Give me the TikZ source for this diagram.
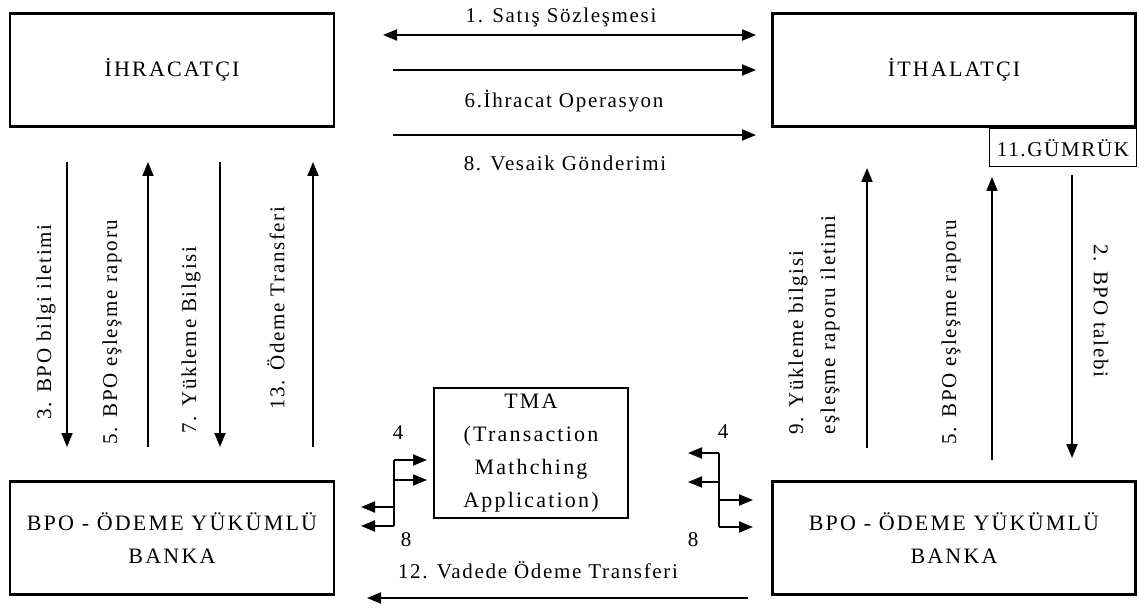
\documentclass[tikz,border=0pt]{standalone}
\usepackage{fontspec}
\setmainfont{Liberation Serif}
\newfontfamily\kutufont[LetterSpace=10]{Liberation Serif}
\newfontfamily\etiketfont[LetterSpace=8]{Liberation Serif}
\usetikzlibrary{arrows.meta}

\tikzset{
  kutu/.style={draw, line width=2.8pt, align=center, inner sep=0pt, font=\kutufont\fontsize{22}{33}\selectfont},
  uc/.tip={Triangle[length=14pt,width=11pt]},
  ok/.style={line width=2pt, -uc},
  etiket/.style={inner sep=0pt, font=\etiketfont\fontsize{21}{32}\selectfont},
}

\begin{document}
\begin{tikzpicture}[x=1pt,y=-1pt]
\useasboundingbox (0,0) rectangle (1139,612);

\node[kutu, minimum width=324pt, minimum height=113pt] (ihr) at (172,70) {İHRACATÇI};
\node[kutu, minimum width=363pt, minimum height=113pt] (ith) at (954,70) {İTHALATÇI};
\node[draw, line width=1pt, minimum width=147pt, minimum height=38pt, inner sep=0pt, font=\etiketfont\fontsize{21}{24}\selectfont] (gum) at (1063,148) {11.GÜMRÜK};
\node[kutu, minimum width=194pt, minimum height=130pt] (tma) at (531,453) {TMA\\(Transaction\\Mathching\\Application)};
\node[kutu, minimum width=324pt, minimum height=113pt] (bpo1) at (172,538) {BPO - ÖDEME YÜKÜMLÜ\\BANKA};
\node[kutu, minimum width=363pt, minimum height=113pt] (bpo2) at (954,538) {BPO - ÖDEME YÜKÜMLÜ\\BANKA};

% ust oklar
\coordinate (s1) at (383,35);  \coordinate (e1) at (756,35);
\coordinate (s6) at (393,70);  \coordinate (e6) at (756,70);
\coordinate (s8) at (393,135); \coordinate (e8) at (756,135);
\draw[ok, uc-uc] (s1) -- (e1);
\draw[ok] (s6) -- (e6);
\draw[ok] (s8) -- (e8);
\node[etiket] (l1) at (561,17) {1. Satış Sözleşmesi};
\node[etiket] (l6) at (564,101) {6.İhracat Operasyon};
\node[etiket] (l8) at (565,163) {8. Vesaik Gönderimi};

% sol dikey oklar
\foreach \nm/\x in {a3/67, a5/148, a7/220, a13/313} {
  \coordinate (\nm u) at (\x,162);
  \coordinate (\nm d) at (\x,447);
}
\draw[ok] (a3u) -- (a3d);
\draw[ok] (a5d) -- (a5u);
\draw[ok] (a7u) -- (a7d);
\draw[ok] (a13d) -- (a13u);
\node[etiket, rotate=90] (l3) at (46,322) {3. BPO bilgi iletimi};
\node[etiket, rotate=90] (l5a) at (112,332) {5. BPO eşleşme raporu};
\node[etiket, rotate=90] (l7) at (191,340) {7. Yükleme Bilgisi};
\node[etiket, rotate=90] (l13) at (276,308) {13. Ödeme Transferi};

% sag dikey oklar
\coordinate (b9u) at (867,168); \coordinate (b9d) at (867,448);
\coordinate (b5u) at (992,177); \coordinate (b5d) at (992,460);
\coordinate (b2u) at (1072,175); \coordinate (b2d) at (1072,458);
\draw[ok] (b9d) -- (b9u);
\draw[ok] (b5d) -- (b5u);
\draw[ok] (b2u) -- (b2d);
\node[etiket, rotate=90, align=left] (l9) at (814,325) {9. Yükleme bilgisi\\eşleşme raporu iletimi};
\node[etiket, rotate=90] (l5b) at (951,332) {5. BPO eşleşme raporu};
\node[etiket, rotate=-90] (l2) at (1101,311) {2. BPO talebi};

% TMA baglantilari
\coordinate (k1) at (394,460); \coordinate (k2) at (394,526);
\draw[line width=2pt] (k1) -- (k2);
\coordinate (k1r) at (427,460); \coordinate (k2r) at (427,480); \coordinate (k2m) at (394,480);
\coordinate (k3m) at (394,507); \coordinate (k3l) at (361,507); \coordinate (k2l) at (361,526);
\draw[ok] (k1) -- (k1r);
\draw[ok] (k2m) -- (k2r);
\draw[ok] (k3m) -- (k3l);
\draw[ok] (k2) -- (k2l);
\node[etiket] (n4a) at (398,433) {4};
\node[etiket] (n8a) at (406,540) {8};

\coordinate (m1) at (719,453); \coordinate (m2) at (719,527);
\draw[line width=2pt] (m1) -- (m2);
\coordinate (m1l) at (688,453); \coordinate (m2m) at (719,482); \coordinate (m2l) at (688,482);
\coordinate (m3m) at (719,500); \coordinate (m3r) at (753,500); \coordinate (m2r) at (753,527);
\draw[ok] (m1) -- (m1l);
\draw[ok] (m2m) -- (m2l);
\draw[ok] (m3m) -- (m3r);
\draw[ok] (m2) -- (m2r);
\node[etiket] (n4b) at (723,432) {4};
\node[etiket] (n8b) at (693,540) {8};

% alt ok
\coordinate (s12) at (748,598); \coordinate (e12) at (367,598);
\draw[ok] (s12) -- (e12);
\node[etiket] (l12) at (538,570) {12. Vadede Ödeme Transferi};
\end{tikzpicture}
\end{document}
